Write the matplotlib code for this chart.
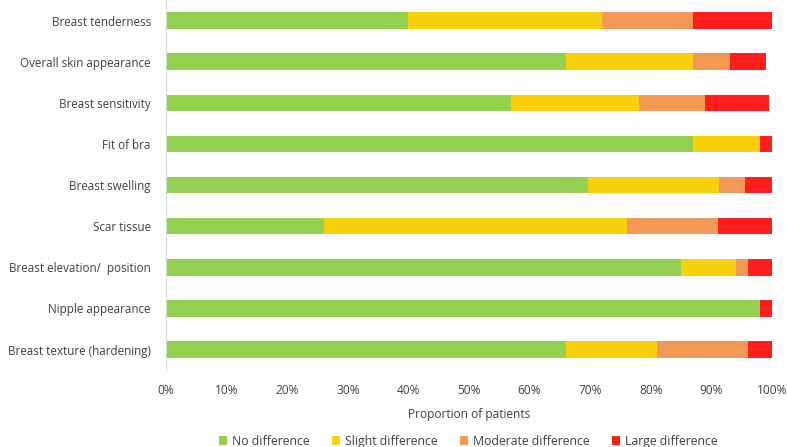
import numpy as np
import matplotlib.pyplot as plt
from matplotlib.ticker import PercentFormatter

plt.rcParams['font.family'] = ['Open Sans', 'DejaVu Sans']

categories = ["Breast tenderness", "Overall skin appearance", "Breast sensitivity",
              "Fit of bra", "Breast swelling", "Scar tissue",
              "Breast elevation/  position", "Nipple appearance", "Breast texture (hardening)"]
no_diff = [40, 66, 57, 87, 69.6, 26, 85, 98, 66]
slight_diff = [32, 21, 21, 11, 21.7, 50, 9, 0, 15]
moderate_diff = [15, 6, 11, 0, 4.3, 15, 2, 0, 15]
large_diff = [13, 6, 10.5, 2, 4.4, 9, 4, 2, 4]

series = [("No difference", no_diff, "#92D050"),
          ("Slight difference", slight_diff, "#F8D10A"),
          ("Moderate difference", moderate_diff, "#F29955"),
          ("Large difference", large_diff, "#FF1D1D")]

fig = plt.figure(figsize=(7.87, 4.47), dpi=100)
ax = fig.add_axes([0.211, 0.172, 0.770, 0.828])

y = np.arange(len(categories))
left = np.zeros(len(categories))
for name, vals, color in series:
    vals = np.array(vals, dtype=float)
    ax.barh(y, vals, left=left, height=0.4, color=color, label=name)
    left += vals

ax.set_ylim(len(categories) - 0.5, -0.5)
ax.set_xlim(0, 100)
ax.set_yticks(y)
ax.set_yticklabels(categories, fontsize=8.4, color="#404040")
ax.set_xticks(np.arange(0, 101, 10))
ax.xaxis.set_major_formatter(PercentFormatter(decimals=0))
ax.tick_params(axis="x", labelsize=8.6, labelcolor="#404040", length=0, pad=10)
ax.tick_params(axis="y", length=0, pad=11)
for s in ["top", "right", "bottom"]:
    ax.spines[s].set_visible(False)
ax.spines["left"].set_color("#d9d9d9")
ax.set_xlabel("Proportion of patients", fontsize=8.6, color="#404040", labelpad=8)

fig.legend(loc="lower center", bbox_to_anchor=(0.595, -0.026), ncol=4, frameon=False,
           fontsize=8.8, handlelength=0.7, handleheight=0.7, handletextpad=0.4,
           columnspacing=1.8, labelcolor="#404040")

fig.savefig("out.png", dpi=100)
